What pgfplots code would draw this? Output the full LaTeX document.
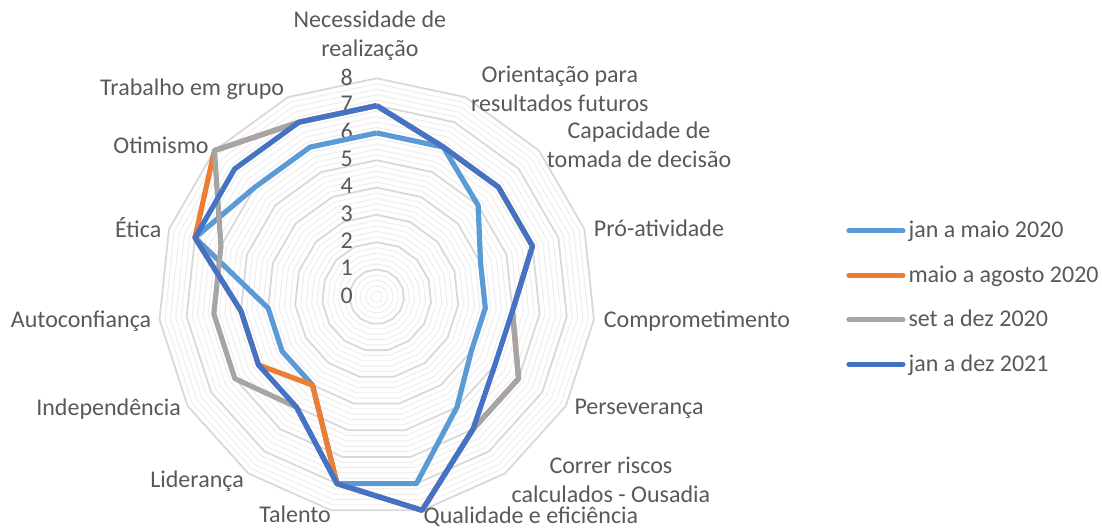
\documentclass[border=0pt]{standalone}
\usepackage{fontspec}
\setmainfont{Carlito}
\usepackage{pgfplots}
\usepackage{pgfplotstable}
\pgfplotsset{compat=1.18}

\definecolor{janmaio}{HTML}{5B9BD5}
\definecolor{maioago}{HTML}{ED7D31}
\definecolor{setdez}{HTML}{A5A5A5}
\definecolor{jandez}{HTML}{4472C4}
\definecolor{txt}{HTML}{595959}
\definecolor{gmajor}{HTML}{D9D9D9}
\definecolor{gminor}{HTML}{EDEDED}

\tikzset{lbl/.style={text=txt, font=\fontsize{12bp}{14.6bp}\selectfont, align=center, inner sep=0pt}}

% angle (clockwise from top) and the four series; last row closes the polygon
\pgfplotstableread{
a   lb  ma  sd  db
0   6   7   7   7
24  6   6   6   6
48  5   6   6   6
72  4   6   6   6
96  4   5   5   5
120 4   6   6   5
144 5   6   6   6
168 7   8   8   8
192 7   7   7   7
216 4   4   5   5
240 4   5   6   5
264 4   5   6   5
288 7   7   6   7
312 6   8   8   7
336 6   7   7   7
360 6   7   7   7
}\radar

\begin{document}
\begin{tikzpicture}
\begin{axis}[
    x=13.65bp, y=13.65bp,
    xmin=-13.8, xmax=26.57,
    ymin=-8.51, ymax=10.87,
    hide axis, clip=false,
    legend style={at={(axis cs:16.97,2.93)}, anchor=north west, draw=none, fill=none,
        font=\fontsize{12bp}{14.6bp}\selectfont, text=txt, row sep=12.45bp,
        nodes={inner xsep=1.5bp, inner ysep=0pt}},
    legend cell align=left,
    legend image code/.code={\draw[#1, line cap=round] (0bp,0bp) -- (27bp,0bp);},
]
\coordinate (bl) at (axis cs:-13.8,-8.51);
\coordinate (tr) at (axis cs:26.57,10.87);

% grid rings
\pgfplotsinvokeforeach{1,...,40}{
  \addplot[forget plot, draw=gminor, line width=0.5bp]
    table[x expr={0.2*#1*sin(\thisrow{a})}, y expr={0.2*#1*cos(\thisrow{a})}] {\radar};
}
\pgfplotsinvokeforeach{1,...,8}{
  \addplot[forget plot, draw=gmajor, line width=0.9bp]
    table[x expr={#1*sin(\thisrow{a})}, y expr={#1*cos(\thisrow{a})}] {\radar};
}

% radial value labels
\pgfplotsinvokeforeach{0,...,8}{
  \node[lbl] at (axis cs:-1.1,#1+0.05) {#1};
}

\addplot[janmaio, line width=2.6bp, line join=round]
  table[x expr={\thisrow{lb}*sin(\thisrow{a})}, y expr={\thisrow{lb}*cos(\thisrow{a})}] {\radar};
\addlegendentry{jan a maio 2020}
\addplot[maioago, line width=2.6bp, line join=round]
  table[x expr={\thisrow{ma}*sin(\thisrow{a})}, y expr={\thisrow{ma}*cos(\thisrow{a})}] {\radar};
\addlegendentry{maio a agosto 2020}
\addplot[setdez, line width=2.6bp, line join=round]
  table[x expr={\thisrow{sd}*sin(\thisrow{a})}, y expr={\thisrow{sd}*cos(\thisrow{a})}] {\radar};
\addlegendentry{set a dez 2020}
\addplot[jandez, line width=2.6bp, line join=round]
  table[x expr={\thisrow{db}*sin(\thisrow{a})}, y expr={\thisrow{db}*cos(\thisrow{a})}] {\radar};
\addlegendentry{jan a dez 2021}

% category labels
\node[lbl] at (axis cs:-0.25,9.55) {Necessidade de\\realização};
\node[lbl] at (axis cs:6.71,7.61) {Orientação para\\resultados futuros};
\node[lbl] at (axis cs:9.61,5.56) {Capacidade de\\tomada de decisão};
\node[lbl] at (axis cs:10.34,2.52) {Pró-atividade};
\node[lbl] at (axis cs:11.73,-0.89) {Comprometimento};
\node[lbl] at (axis cs:9.61,-4.11) {Perseverança};
\node[lbl] at (axis cs:8.58,-6.72) {Correr riscos\\calculados - Ousadia};
\node[lbl] at (axis cs:5.65,-8.07) {Qualidade e eficiência};
\node[lbl] at (axis cs:-2.99,-7.98) {Talento};
\node[lbl] at (axis cs:-6.58,-6.75) {Liderança};
\node[lbl] at (axis cs:-9.82,-4.11) {Independência};
\node[lbl] at (axis cs:-10.83,-0.89) {Autoconfiança};
\node[lbl] at (axis cs:-8.74,2.55) {Ética};
\node[lbl] at (axis cs:-7.9,5.56) {Otimismo};
\node[lbl] at (axis cs:-6.76,7.61) {Trabalho em grupo};
\end{axis}
\pgfresetboundingbox
\path (bl) rectangle (tr);
\end{tikzpicture}
\end{document}
